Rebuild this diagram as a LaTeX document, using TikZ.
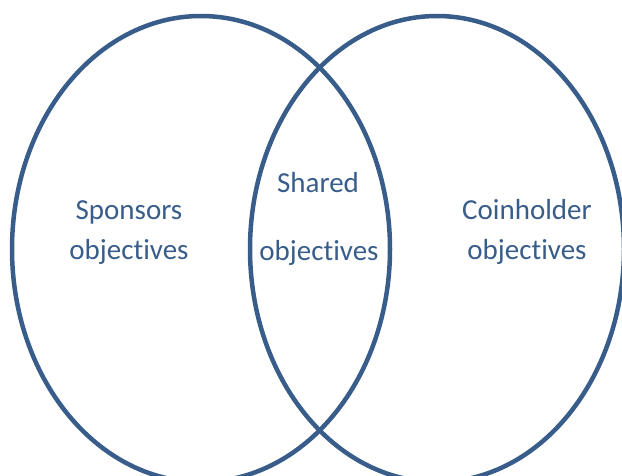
\documentclass[tikz,border=0pt]{standalone}
\usepackage{fontspec}
\setmainfont[RawFeature={-liga;-calt;-dlig;-clig}]{Carlito}
\definecolor{vennblue}{RGB}{56,93,138}
\begin{document}
\begin{tikzpicture}[x=1pt,y=-1pt,
  ring/.style={draw=vennblue,line width=4.5pt},
  lbl/.style={text=vennblue,font=\fontsize{29}{35}\selectfont,anchor=base,inner sep=0pt}]
\useasboundingbox (0,0) rectangle (622,476);
\begin{scope}
\clip (0,0) rectangle (622,476);
\draw[ring] (201,249) ellipse [x radius=189, y radius=233];
\draw[ring] (437,249) ellipse [x radius=187, y radius=233];
\end{scope}
\node[lbl] (s1) at (129,220) {Sponsors};
\node[lbl] (s2) at (129,259) {objectives};
\node[lbl] (m1) at (318,193) {Shared};
\node[lbl] (m2) at (319,261) {objectives};
\node[lbl] (c1) at (527,220) {Coinholder};
\node[lbl] (c2) at (527,259) {objectives};
\end{tikzpicture}
\end{document}
